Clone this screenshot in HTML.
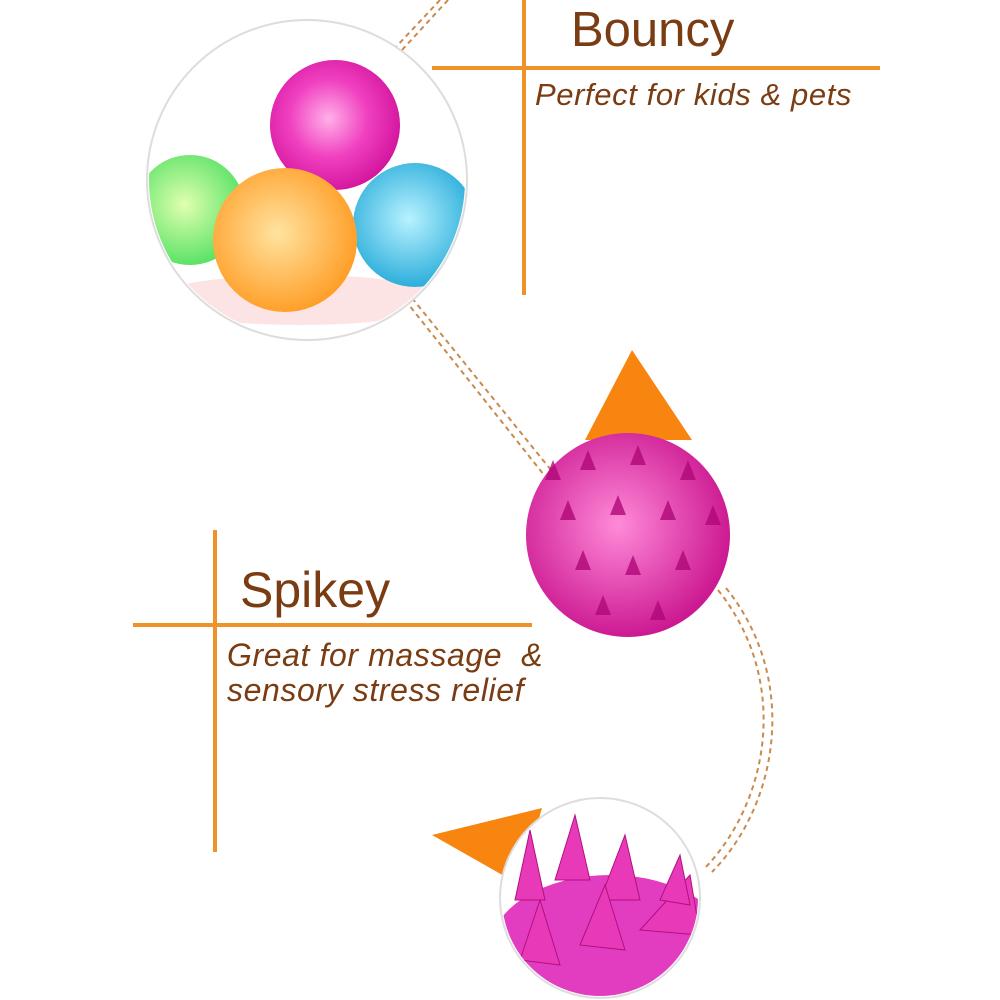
<!DOCTYPE html>
<html><head><meta charset="utf-8"><style>
html,body{margin:0;padding:0;background:#fff;}
.wrap{position:relative;width:1000px;height:1000px;overflow:hidden;background:#fff;font-family:"Liberation Sans",sans-serif;}
.t{position:absolute;color:#7a3c12;white-space:nowrap;}
</style></head><body><div class="wrap">
<svg width="1000" height="1000" style="position:absolute;left:0;top:0">
<defs>
<radialGradient id="pk" cx="45%" cy="45%" r="60%"><stop offset="0" stop-color="#ffb0e8"/><stop offset="0.5" stop-color="#f040c0"/><stop offset="1" stop-color="#d0109a"/></radialGradient>
<radialGradient id="or" cx="45%" cy="45%" r="60%"><stop offset="0" stop-color="#ffe3a0"/><stop offset="1" stop-color="#ff9a20"/></radialGradient>
<radialGradient id="bl" cx="45%" cy="45%" r="60%"><stop offset="0" stop-color="#b8f2ff"/><stop offset="1" stop-color="#20a8d8"/></radialGradient>
<radialGradient id="gr" cx="45%" cy="45%" r="60%"><stop offset="0" stop-color="#e0ffb0"/><stop offset="1" stop-color="#50e060"/></radialGradient>
<radialGradient id="mg" cx="45%" cy="45%" r="60%"><stop offset="0" stop-color="#ff8ad8"/><stop offset="1" stop-color="#c8108c"/></radialGradient>
<clipPath id="c1"><circle cx="307" cy="180" r="158"/></clipPath>
<clipPath id="c2"><circle cx="600" cy="898" r="98"/></clipPath>
</defs>
<path d="M440 0 L395 48" stroke="#c98a50" stroke-width="2" stroke-dasharray="5,4" fill="none"/>
<path d="M448 0 L402 50" stroke="#c98a50" stroke-width="2" stroke-dasharray="5,4" fill="none"/>
<path d="M405 300 L548 480" stroke="#c98a50" stroke-width="2" stroke-dasharray="5,4" fill="none"/>
<path d="M412 298 L555 475" stroke="#c98a50" stroke-width="2" stroke-dasharray="5,4" fill="none"/>
<path d="M718 590 C790 680 770 800 705 868" stroke="#c98a50" stroke-width="2" stroke-dasharray="5,4" fill="none"/>
<path d="M726 588 C800 680 778 805 712 872" stroke="#c98a50" stroke-width="2" stroke-dasharray="5,4" fill="none"/>
<line x1="524" y1="0" x2="524" y2="295" stroke="#f0922a" stroke-width="4"/>
<line x1="432" y1="68" x2="880" y2="68" stroke="#f0922a" stroke-width="4"/>
<line x1="215" y1="530" x2="215" y2="852" stroke="#f0922a" stroke-width="4"/>
<line x1="133" y1="625" x2="532" y2="625" stroke="#f0922a" stroke-width="4"/>
<circle cx="307" cy="180" r="160" fill="#fff" stroke="#ddd" stroke-width="2"/>
<g clip-path="url(#c1)">
<ellipse cx="300" cy="300" rx="150" ry="25" fill="#fde4e4"/>
<circle cx="190" cy="210" r="55" fill="url(#gr)"/>
<circle cx="335" cy="125" r="65" fill="url(#pk)"/>
<circle cx="415" cy="225" r="62" fill="url(#bl)"/>
<circle cx="285" cy="240" r="72" fill="url(#or)"/>
</g>
<polygon points="585,440 632,350 692,440" fill="#f7850f"/>
<circle cx="628" cy="535" r="102" fill="url(#mg)"/>
<g fill="#b00878" opacity="0.8">
<polygon points="580,470 588,450 596,470"/><polygon points="630,465 638,445 646,465"/><polygon points="680,480 688,460 696,480"/>
<polygon points="560,520 568,500 576,520"/><polygon points="610,515 618,495 626,515"/><polygon points="660,520 668,500 676,520"/><polygon points="705,525 713,505 721,525"/>
<polygon points="575,570 583,550 591,570"/><polygon points="625,575 633,555 641,575"/><polygon points="675,570 683,550 691,570"/>
<polygon points="595,615 603,595 611,615"/><polygon points="650,620 658,600 666,620"/><polygon points="545,480 553,460 561,480"/>
</g>
<polygon points="432,835 542,808 520,885" fill="#f7850f"/>
<circle cx="600" cy="898" r="100" fill="#fff" stroke="#ddd" stroke-width="2"/>
<g clip-path="url(#c2)">
<ellipse cx="610" cy="950" rx="120" ry="75" fill="#e23cc0"/>
<g fill="#e83ab8" stroke="#b0107e" stroke-width="1">
<polygon points="515,900 530,830 545,900"/><polygon points="555,880 575,815 590,880"/><polygon points="600,900 625,835 640,900"/>
<polygon points="640,930 690,875 700,935"/><polygon points="580,945 605,885 625,950"/><polygon points="520,960 540,900 560,965"/>
<polygon points="660,900 680,855 690,905"/>
</g>
</g>
</svg>
<div class="t" style="left:571px;top:2px;font-size:49px;">Bouncy</div>
<div class="t" style="left:535px;top:77px;font-size:31px;font-style:italic;letter-spacing:0.6px;">Perfect for kids &amp; pets</div>
<div class="t" style="left:240px;top:561px;font-size:50px;">Spikey</div>
<div class="t" style="left:227px;top:638px;font-size:32px;font-style:italic;line-height:35px;letter-spacing:0.6px;">Great for massage &nbsp;&amp;<br>sensory stress relief</div>
</div></body></html>
